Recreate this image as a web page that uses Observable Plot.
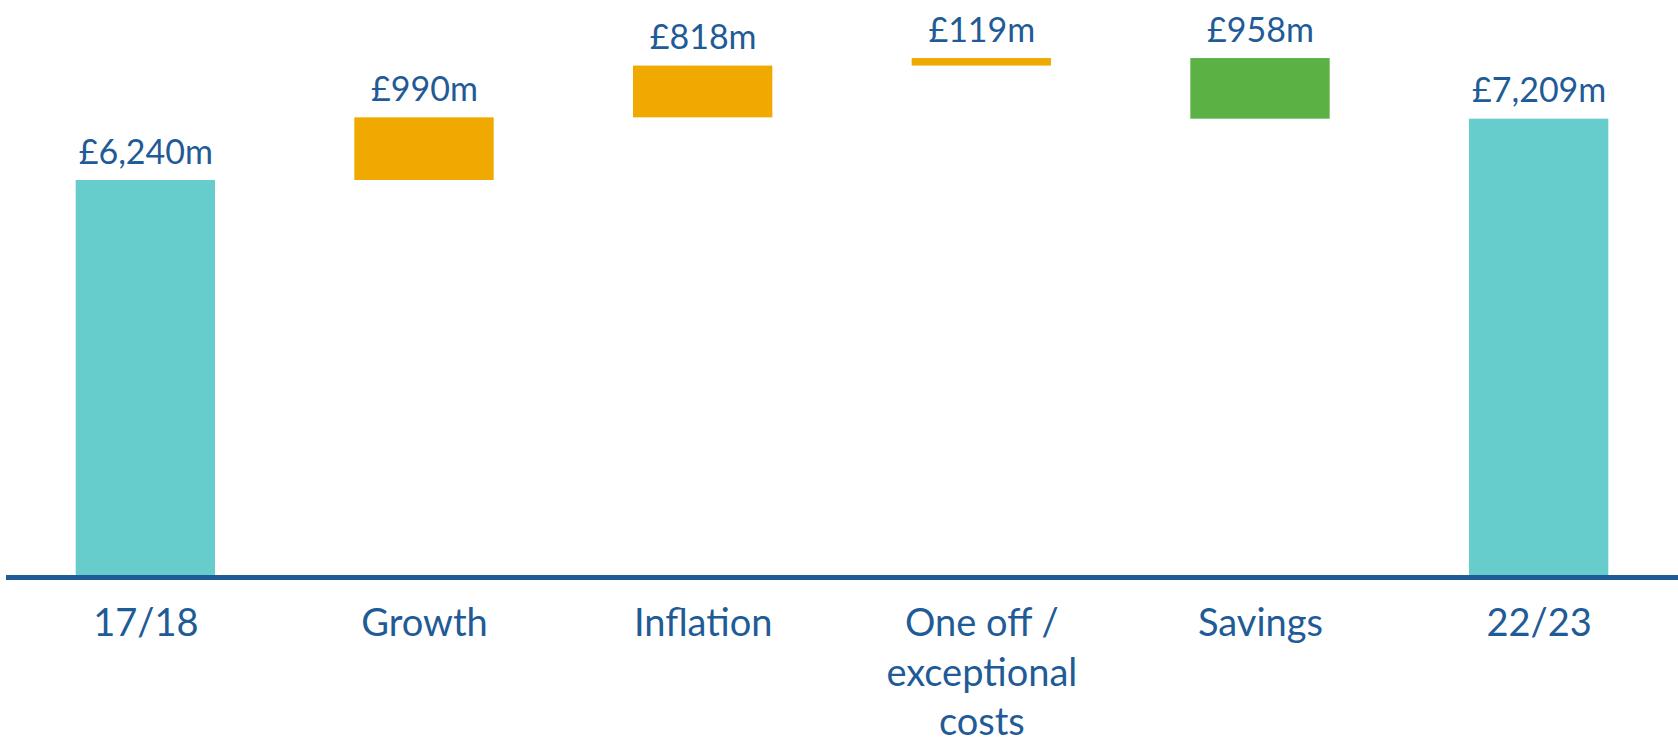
<!DOCTYPE html>
<html>
<head>
<meta charset="utf-8">
<script src="https://cdn.jsdelivr.net/npm/d3@7"></script>
<script src="https://cdn.jsdelivr.net/npm/@observablehq/plot@0.6"></script>
<style>
  html, body { margin: 0; padding: 0; background: #fff; }
  #chart svg { display: block; overflow: visible; }
</style>
</head>
<body>
<div id="chart"></div>
<script>
const categories = ["17/18", "Growth", "Inflation", "One off /\nexceptional\ncosts", "Savings", "22/23"];
const values = [6240, 990, 818, 119, -958, 7209];
const kinds = ["total", "increase", "increase", "increase", "decrease", "total"];
const valueLabels = ["£6,240m", "£990m", "£818m", "£119m", "£958m", "£7,209m"];

const kindDomain = ["total", "increase", "decrease"];
const kindColors = ["#66cdcc", "#f0a900", "#5cb145"];
const textColor = "#1f5b96";

// waterfall rows
let running = 0;
const rows = categories.map((c, i) => {
  let y1, y2;
  if (kinds[i] === "total") { y1 = 0; y2 = values[i]; running = values[i]; }
  else { y1 = running; y2 = running + values[i]; running = y2; }
  return { cat: c, kind: kinds[i], y1, y2, top: Math.max(y1, y2), label: valueLabels[i] };
});

const chart = Plot.plot({
  width: 1678,
  height: 743,
  marginLeft: 6,
  marginRight: 0,
  marginTop: 0,
  marginBottom: 168,
  style: { fontFamily: "Lato, sans-serif", background: "transparent" },
  x: { domain: categories, paddingInner: 0.5, paddingOuter: 0.25, round: false, axis: null },
  y: { domain: [0, 9084], axis: null },
  color: { domain: kindDomain, range: kindColors },
  marks: [
    Plot.barY(rows, { x: "cat", y1: "y1", y2: "y2", fill: "kind", inset: 0 }),
    Plot.ruleY([0], { stroke: "#1f5b96", strokeWidth: 5, dy: 2 }),
    Plot.text(rows, { x: "cat", y: "top", text: "label", fill: textColor, fontSize: 34, lineAnchor: "bottom", dy: -17 }),
    Plot.text(rows, { x: "cat", text: "cat", frameAnchor: "bottom", lineAnchor: "top", dy: 25, fill: textColor, fontSize: 38, lineHeight: 1.31 })
  ]
});
document.getElementById("chart").appendChild(chart);
</script>
</body>
</html>
